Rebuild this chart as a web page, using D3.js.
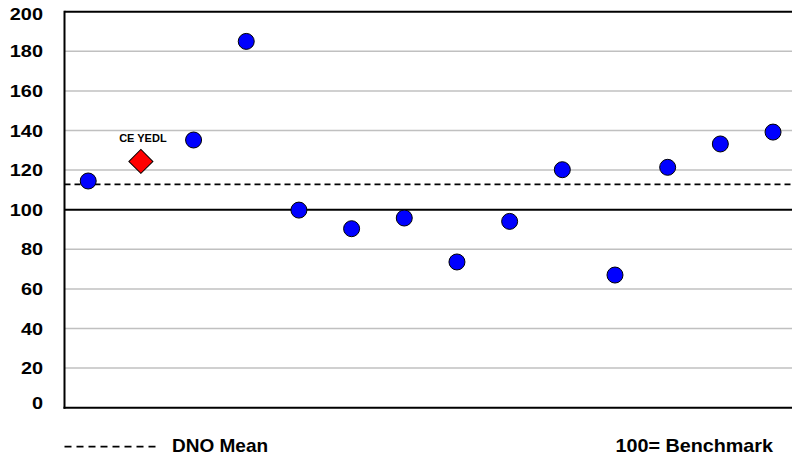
<!DOCTYPE html>
<html>
<head>
<meta charset="utf-8">
<script src="https://cdn.jsdelivr.net/npm/d3@7"></script>
<style>
  body { margin: 0; background: #fff; }
  text { font-family: "Liberation Sans", Arial, sans-serif; font-weight: bold; fill: #000; }
</style>
</head>
<body>
<div id="chart"></div>
<script>
const width = 792;
const height = 460;

// DNO index values (one per company), CE YEDL is highlighted
const companies = ["DNO 1", "CE YEDL", "DNO 3", "DNO 4", "DNO 5", "DNO 6", "DNO 7",
    "DNO 8", "DNO 9", "DNO 10", "DNO 11", "DNO 12", "DNO 13", "DNO 14"];
const values = [114.5, 124.4, 135.2, 185.0, 99.8, 90.4, 95.8, 73.6, 94.1, 120.2, 67.0, 121.4, 133.2, 139.2];
const highlight = "CE YEDL";
const dnoMean = [112.8];
const benchmark = [100];
const yTicks = [0, 20, 40, 60, 80, 100, 120, 140, 160, 180, 200];

const plot = { left: 64.5, top: 11.7, bottom: 407.7, right: 802 };

const x = d3.scaleLinear()
    .domain([-0.45, companies.length - 0.45])
    .range([plot.left, plot.right]);
const y = d3.scaleLinear()
    .domain([0, 200])
    .range([plot.bottom, plot.top]);

const svg = d3.select("#chart")
    .append("svg")
    .attr("width", width)
    .attr("height", height);

// gridlines
svg.append("g").selectAll("line")
    .data(yTicks.filter(d => d > 0 && d < 200 && !benchmark.includes(d)))
    .join("line")
    .attr("x1", plot.left).attr("x2", width)
    .attr("y1", d => y(d)).attr("y2", d => y(d))
    .attr("stroke", "#c0c0c0")
    .attr("stroke-width", 1.5);

// benchmark line and top border
svg.append("g").selectAll("line")
    .data(benchmark.concat([200]))
    .join("line")
    .attr("x1", plot.left).attr("x2", width)
    .attr("y1", d => y(d)).attr("y2", d => y(d))
    .attr("stroke", "#000")
    .attr("stroke-width", 2);

// mean line
svg.append("g").selectAll("line")
    .data(dnoMean)
    .join("line")
    .attr("x1", plot.left).attr("x2", width)
    .attr("y1", d => y(d)).attr("y2", d => y(d))
    .attr("stroke", "#000")
    .attr("stroke-width", 1.8)
    .attr("stroke-dasharray", "6,4");

// axes lines
svg.append("line")
    .attr("x1", plot.left).attr("x2", plot.left)
    .attr("y1", y(200) - 1).attr("y2", y(0) + 1)
    .attr("stroke", "#000").attr("stroke-width", 2);
svg.append("line")
    .attr("x1", plot.left - 1).attr("x2", width)
    .attr("y1", y(0)).attr("y2", y(0))
    .attr("stroke", "#000").attr("stroke-width", 2);

// y tick labels
svg.append("g").selectAll("text")
    .data(yTicks)
    .join("text")
    .attr("transform", d => `translate(43,${y(d) + 6 + (d === 200 ? 2.5 : 0) - (d === 0 ? 4.5 : 0)}) scale(1.17,1)`)
    .attr("text-anchor", "end")
    .style("font-size", "17px")
    .text(d => d);

// points
const pts = companies.map((c, i) => ({ name: c, i: i, v: values[i] }));

svg.append("g").selectAll("circle")
    .data(pts.filter(d => d.name !== highlight))
    .join("circle")
    .attr("cx", d => x(d.i))
    .attr("cy", d => y(d.v))
    .attr("r", 8)
    .attr("fill", "#0000ff")
    .attr("stroke", "#000")
    .attr("stroke-width", 1);

const hl = pts.filter(d => d.name === highlight);
svg.append("g").selectAll("path")
    .data(hl)
    .join("path")
    .attr("d", d3.symbol(d3.symbolSquare, 289))
    .attr("transform", d => `translate(${x(d.i)},${y(d.v)}) rotate(45)`)
    .attr("fill", "#ff0000")
    .attr("stroke", "#000")
    .attr("stroke-width", 1);

svg.append("g").selectAll("text")
    .data(hl)
    .join("text")
    .attr("x", d => x(d.i) + 2)
    .attr("y", d => y(d.v) - 19)
    .attr("text-anchor", "middle")
    .style("font-size", "11px")
    .text(d => d.name);

// legend
svg.append("line")
    .attr("x1", 64.5).attr("x2", 157)
    .attr("y1", 446.7).attr("y2", 446.7)
    .attr("stroke", "#000")
    .attr("stroke-width", 1.8)
    .attr("stroke-dasharray", "7,5");
svg.append("text")
    .attr("x", 172)
    .attr("y", 452)
    .style("font-size", "19px")
    .text("DNO Mean");
svg.append("text")
    .attr("transform", "translate(773,452) scale(1.04,1)")
    .attr("text-anchor", "end")
    .style("font-size", "19px")
    .text("100= Benchmark");
</script>
</body>
</html>
